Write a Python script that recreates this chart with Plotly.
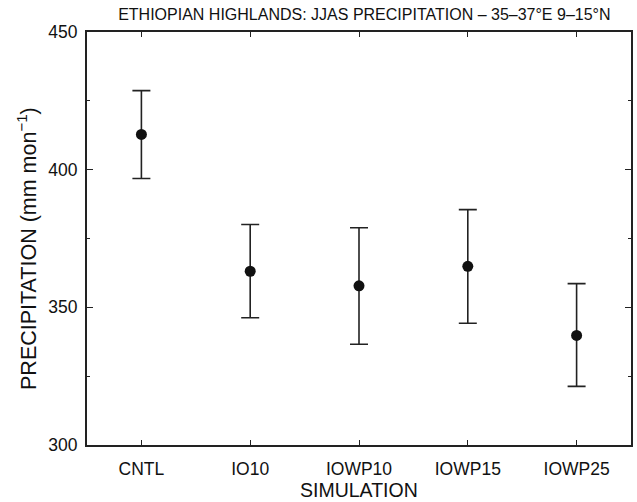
import plotly.graph_objects as go

simulations = ["CNTL", "IO10", "IOWP10", "IOWP15", "IOWP25"]
precip_mean = [412.8, 363.1, 357.8, 364.9, 339.8]
precip_upper = [428.7, 380.1, 378.9, 385.5, 358.6]
precip_lower = [396.8, 346.2, 336.6, 344.2, 321.3]

err_plus = [u - m for u, m in zip(precip_upper, precip_mean)]
err_minus = [m - l for m, l in zip(precip_mean, precip_lower)]

FONT = "Liberation Sans, Arial, sans-serif"
AX = "#222222"

fig = go.Figure()
fig.add_trace(go.Scatter(
    x=list(range(len(simulations))), y=precip_mean, mode="markers",
    marker=dict(color="#111111", size=11),
    error_y=dict(type="data", symmetric=False, array=err_plus, arrayminus=err_minus,
                 color="#222222", thickness=1.6, width=9),
    showlegend=False,
))

fig.update_layout(
    width=637, height=502,
    margin=dict(l=87, r=6, t=32, b=57),
    paper_bgcolor="white", plot_bgcolor="white",
    font=dict(family=FONT, color="#111111"),
    title=dict(text="ETHIOPIAN HIGHLANDS: JJAS PRECIPITATION – 35–37°E 9–15°N",
               font=dict(size=16, family=FONT, color="#111111"),
               x=0.572, xanchor="center", y=0.972, yanchor="middle"),
    annotations=[
        dict(text="PRECIPITATION (mm mon<sup>−1</sup>)", textangle=-90,
             xref="paper", yref="paper", x=-0.11, y=0.475,
             xanchor="center", yanchor="middle", showarrow=False,
             font=dict(size=21.5, family=FONT, color="#111111")),
        dict(text="SIMULATION",
             xref="paper", yref="paper", x=0.5, y=-0.108,
             xanchor="center", yanchor="middle", showarrow=False,
             font=dict(size=19.5, family=FONT, color="#111111")),
    ],
)

fig.update_xaxes(
    tickmode="array", tickvals=list(range(len(simulations))), ticktext=simulations,
    range=[-0.5, 4.5], showgrid=False, zeroline=False, automargin=False,
    showline=True, linecolor=AX, linewidth=2, mirror="ticks",
    ticks="inside", ticklen=5, tickwidth=1.2, tickcolor=AX,
    tickfont=dict(size=17.5, family=FONT), ticklabelstandoff=7,
)
fig.update_yaxes(
    range=[300, 450], tickvals=[300, 350, 400, 450], showgrid=False, zeroline=False,
    automargin=False,
    showline=True, linecolor=AX, linewidth=2, mirror="ticks",
    ticks="inside", ticklen=6, tickwidth=1.2, tickcolor=AX,
    minor=dict(tickvals=[325, 375, 425], ticks="inside", ticklen=3, tickwidth=1.2, tickcolor=AX),
    tickfont=dict(size=17.5, family=FONT), ticklabelstandoff=4,
)

fig.write_html("out.html")
